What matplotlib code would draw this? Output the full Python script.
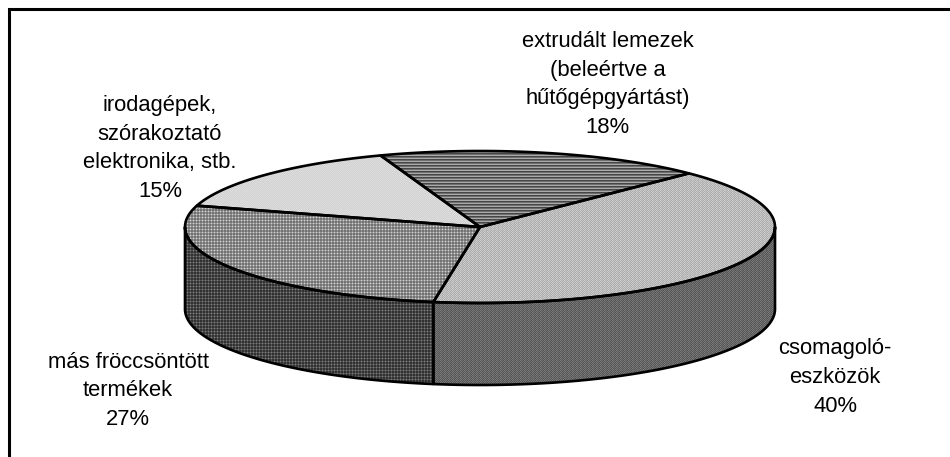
import numpy as np
import matplotlib
matplotlib.use("Agg")
import matplotlib.pyplot as plt
from matplotlib.patches import Polygon

# clockwise from the top-left edge of the first slice
labels = ["extrudált lemezek\n(beleértve a\nhűtőgépgyártást)", "csomagoló-\neszközök",
          "más fröccsöntött\ntermékek", "irodagépek,\nszórakoztató\nelektronika, stb."]
shares = [18, 40, 27, 15]
label_x = [607.5, 835, 128, 160]
label_y = [84.5, 377.5, 391, 148.5]

start_angle = -19.7
cx, cy, a, b = 480, 227, 295, 76
depth = 82

W, H = 950, 457


def rim(t0, t1, dy=0):
    t = np.radians(np.linspace(t0, t1, 200))
    return np.column_stack([cx + a * np.sin(t), cy - b * np.cos(t) + dy])


def texture(tile):
    tile = np.array(tile, dtype=float) / 255
    ny = H // tile.shape[0] + 1
    nx = W // tile.shape[1] + 1
    return np.tile(tile, (ny, nx))[:H, :W]


def textured(ax, pts, tile):
    # fill a polygon with a repeating pixel pattern, then outline it
    im = ax.imshow(texture(tile), cmap="gray", vmin=0, vmax=1, extent=(0, W, H, 0),
                   interpolation="nearest", aspect="auto", zorder=2)
    clip = Polygon(pts, closed=True, transform=ax.transData, fc="none", ec="none")
    ax.add_patch(clip)
    im.set_clip_path(clip)
    ax.add_patch(Polygon(pts, closed=True, fc="none", ec="black", lw=1.9,
                         joinstyle="round", zorder=3))


stripes = [[70], [110], [170]]
grid_top = [[115, 150, 115], [150, 210, 150], [115, 150, 115]]
dots = [[222, 208], [208, 222]]
diag_top = [[205, 180, 195, 170], [175, 200, 170, 205]]
diag_side = [[125, 90, 110, 85], [85, 120, 90, 115]]
grid_side = [[50, 80, 50], [80, 125, 80], [50, 80, 50]]

fig = plt.figure(figsize=(9.5, 4.57), dpi=100)
plt.rcParams["font.family"] = ["Liberation Sans", "DejaVu Sans"]
ax = fig.add_axes([0, 0, 1, 1])
ax.set_xlim(0, W)
ax.set_ylim(H, 0)
ax.axis("off")

edges = start_angle + np.cumsum([0] + shares) * 3.6

# side wall, only the front half of the cylinder shows
side_ranges = [(90, edges[2], diag_side), (edges[2], 270, grid_side)]
for t0, t1, tile in side_ranges:
    pts = np.vstack([rim(t0, t1), rim(t1, t0, depth)])
    textured(ax, pts, tile)

tops = [stripes, diag_top, grid_top, dots]
for i, tile in enumerate(tops):
    pts = np.vstack([[cx, cy], rim(edges[i], edges[i + 1])])
    textured(ax, pts, tile)

for name, share, x, y in zip(labels, shares, label_x, label_y):
    ax.text(x, y, f"{name}\n{share}%", ha="center", va="center", fontsize=15.8,
            linespacing=1.49, color="black", zorder=4)

# chart frame, only top and left are inside the crop
ax.plot([W, 9, 9], [9, 9, H], color="black", lw=2.2, solid_joinstyle="miter", zorder=5)

fig.savefig("out.png", dpi=100)
